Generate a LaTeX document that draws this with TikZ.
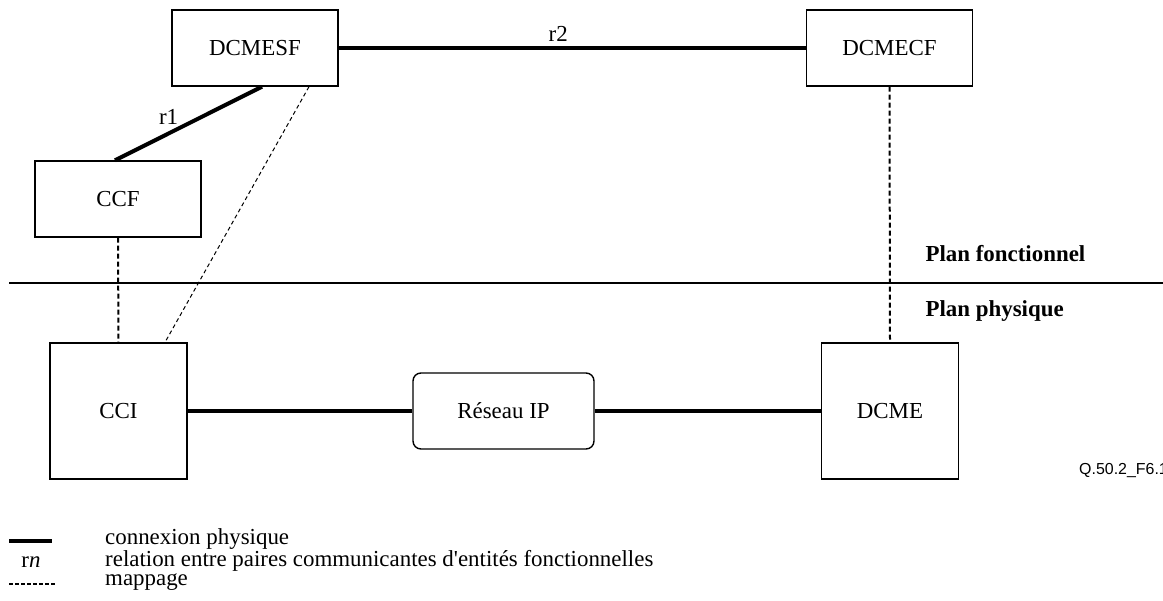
\documentclass[tikz,border=0pt]{standalone}
\usepackage{fontspec}
\setmainfont{Liberation Serif}
\newfontfamily\figsans{Liberation Sans}
\usetikzlibrary{positioning}
\tikzset{
  box/.style={rectangle, draw, line width=1.4bp, minimum width=166bp, minimum height=76bp},
  physical/.style={line width=4bp},
  mapping/.style={line width=1bp, dash pattern=on 4bp off 3bp},
  mappingbold/.style={line width=2bp, dash pattern=on 5bp off 3bp},
  legendtext/.style={anchor=west, inner sep=0bp, font=\fontsize{23}{25}\selectfont},
}
\begin{document}
\begin{tikzpicture}[x=1bp, y=-1bp, font=\fontsize{23}{27}\selectfont]
  \useasboundingbox (0,0) rectangle (1163,601);
  % Nodes
  \node (s) [box] at (255, 48) {DCMESF};
  \node (e) [box] at (889.5, 48) {DCMECF};
  \node (f) [box] at (118, 199) {CCF};
  \node (c) [box, minimum width=137bp, minimum height=136bp] at (118.5, 411) {CCI};
  \node (d) [box, minimum width=137bp, minimum height=136bp] at (890, 411) {DCME};
  \node (r) [box, rounded corners=8bp, minimum width=181bp] at (503.5, 411) {Réseau IP};
  % Planes
  \draw[line width=2bp] (9, 283) coordinate (pl) -- (1163, 283) coordinate (pr);
  \node (pf) [anchor=west, font=\fontsize{23}{27}\selectfont\bfseries] at (922, 254) {Plan fonctionnel};
  \node (pp) [anchor=west, font=\fontsize{23}{27}\selectfont\bfseries] at (922, 311) {Plan physique};
  % Relations
  \draw[physical] (s.east) -- node[pos=0.47, above, inner sep=4bp] {r2} (e.west);
  \draw[physical] ([xshift=7bp]s.south) -- node[pos=0.55, above left, inner sep=1bp] {r1} ([xshift=-3bp]f.north);
  \draw[physical] (c.east) -- (r.west);
  \draw[physical] (r.east) -- (d.west);
  % Mapping
  \draw[mappingbold] (f.south) -- (c.north);
  \draw[mapping] ([xshift=54bp]s.south) -- ([xshift=46.5bp]c.north);
  \draw[mappingbold] (e.south) -- (d.north);
  % Figure reference
  \node (q) [anchor=west, inner sep=0bp, font=\fontsize{16}{18}\selectfont\figsans] at (1079, 471) {Q.50.2\_F6.1};
  % Legend
  \coordinate (l1a) at (9, 541);
  \coordinate (l1b) at (52, 541);
  \draw[physical] (l1a) -- (l1b);
  \node (t1) [legendtext] at (105, 539) {connexion physique};
  \node (rn) [inner sep=0bp, font=\fontsize{23}{25}\selectfont] at (31, 562) {r\textit{n}};
  \node (t2) [legendtext] at (105, 561) {relation entre paires communicantes d\textquotesingle entités fonctionnelles};
  \coordinate (l3a) at (9, 584);
  \coordinate (l3b) at (55, 584);
  \draw[line width=2.2bp, dash pattern=on 4bp off 2bp] (l3a) -- (l3b);
  \node (t3) [legendtext] at (105, 582) {mappage};
\end{tikzpicture}
\end{document}
